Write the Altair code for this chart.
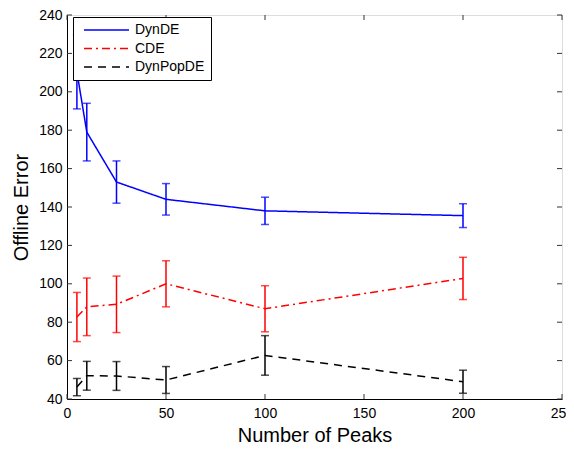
import altair as alt
import pandas as pd

# ---- data ----
peaks = [5, 10, 25, 50, 100, 200]
series_names = ["DynDE", "CDE", "DynPopDE"]
dynde_mean = [210.4, 179, 153, 144, 138, 135.5]
dynde_err = [19.3, 15, 11, 8.2, 7.1, 6.2]
cde_mean = [82.7, 88, 89.3, 100, 87, 102.8]
cde_err = [12.8, 15, 14.7, 12, 12, 11]
dpde_mean = [46.2, 52.1, 52, 49.9, 62.7, 49]
dpde_err = [4.5, 7.5, 7.5, 7, 10.3, 6]
x_ticks = [0, 50, 100, 150, 200, 250]
y_ticks = [40, 60, 80, 100, 120, 140, 160, 180, 200, 220, 240]

colors = ["#0000ff", "#ff0000", "#000000"]
dashes = [[1, 0], [8, 4, 2, 4], [8, 6]]

rows = []
for name, means, errs in zip(series_names, [dynde_mean, cde_mean, dpde_mean],
                             [dynde_err, cde_err, dpde_err]):
    for p, m, e in zip(peaks, means, errs):
        rows.append({"series": name, "peaks": p, "mean": m, "err": e})
df = pd.DataFrame(rows)
xt = pd.DataFrame({"t": x_ticks})
yt = pd.DataFrame({"t": y_ticks})

W, H = 495, 384
FONT = "Liberation Sans"

xscale = alt.Scale(domain=[0, 250], nice=False, zero=False)
yscale = alt.Scale(domain=[40, 240], nice=False, zero=False)

xaxis = alt.Axis(values=x_ticks, grid=False, ticks=False, tickSize=0, labelFlush=False,
                 labelOverlap=False, labelFontSize=14, labelFont=FONT, labelColor="black",
                 labelPadding=7, domainColor="black", title="Number of Peaks",
                 titleFont=FONT, titleFontSize=20, titleFontWeight="normal", titleColor="black",
                 titleBaseline="alphabetic", titleX=W / 2, titleY=42, titleAlign="center")
yaxis = alt.Axis(values=y_ticks, grid=False, ticks=False, tickSize=0, labelFlush=False,
                 labelOverlap=False, labelFontSize=14, labelFont=FONT, labelColor="black",
                 labelPadding=5, domainColor="black", title="Offline Error",
                 titleFont=FONT, titleFontSize=20, titleFontWeight="normal", titleColor="black",
                 titleBaseline="alphabetic", titleX=-40, titleY=H / 2, titleAngle=270,
                 titleAlign="center")

X = alt.X("peaks:Q", scale=xscale, axis=xaxis)

legend = alt.Legend(orient="none", legendX=6, legendY=2, title=None, strokeColor="black",
                    fillColor="white", padding=6, symbolType="stroke", symbolSize=2025,
                    symbolStrokeWidth=1.5, labelFontSize=14, labelFont=FONT, labelColor="black",
                    rowPadding=4.5, labelOffset=5, symbolOffset=4, cornerRadius=0,
                    clipHeight=14)

base = alt.Chart(df)

lines = base.mark_line(strokeWidth=1.5).encode(
    x=X,
    y=alt.Y("mean:Q", scale=yscale, axis=yaxis),
    color=alt.Color("series:N", scale=alt.Scale(domain=series_names, range=colors),
                    sort=series_names, legend=legend),
    strokeDash=alt.StrokeDash("series:N", scale=alt.Scale(domain=series_names, range=dashes),
                              sort=series_names, legend=legend),
)

layers = []
for name, c in zip(series_names, colors):
    s = base.transform_filter(alt.datum.series == name).transform_calculate(
        lo="datum.mean - datum.err", hi="datum.mean + datum.err")
    layers.append(s.mark_rule(color=c, strokeWidth=1.5).encode(
        x=X, y=alt.Y("lo:Q", scale=yscale, axis=yaxis), y2="hi:Q"))
    layers.append(s.mark_tick(color=c, orient="horizontal", size=8, thickness=1.5).encode(
        x=X, y=alt.Y("lo:Q", scale=yscale, axis=yaxis)))
    layers.append(s.mark_tick(color=c, orient="horizontal", size=8, thickness=1.5).encode(
        x=X, y=alt.Y("hi:Q", scale=yscale, axis=yaxis)))

XT = alt.X("t:Q", scale=xscale, axis=xaxis)
YT = alt.Y("t:Q", scale=yscale, axis=yaxis)
tick_color = "#333333"
xt_bottom = alt.Chart(xt).mark_rule(color=tick_color).encode(x=XT, y=alt.value(H), y2=alt.value(H - 5))
xt_top = alt.Chart(xt).mark_rule(color=tick_color).encode(x=XT, y=alt.value(0), y2=alt.value(5))
yt_left = alt.Chart(yt).mark_rule(color=tick_color).encode(y=YT, x=alt.value(0), x2=alt.value(5))
yt_right = alt.Chart(yt).mark_rule(color=tick_color).encode(y=YT, x=alt.value(W - 5), x2=alt.value(W))

chart = alt.layer(xt_bottom, xt_top, yt_left, yt_right, *layers, lines).properties(
    width=W, height=H,
    autosize=alt.AutoSizeParams(type="none"),
    padding={"left": 59, "top": 7, "right": 4, "bottom": 46},
).configure_view(stroke="black", strokeWidth=1).configure(background="white")

chart.save("out.html", embed_options={"renderer": "svg", "actions": False})
